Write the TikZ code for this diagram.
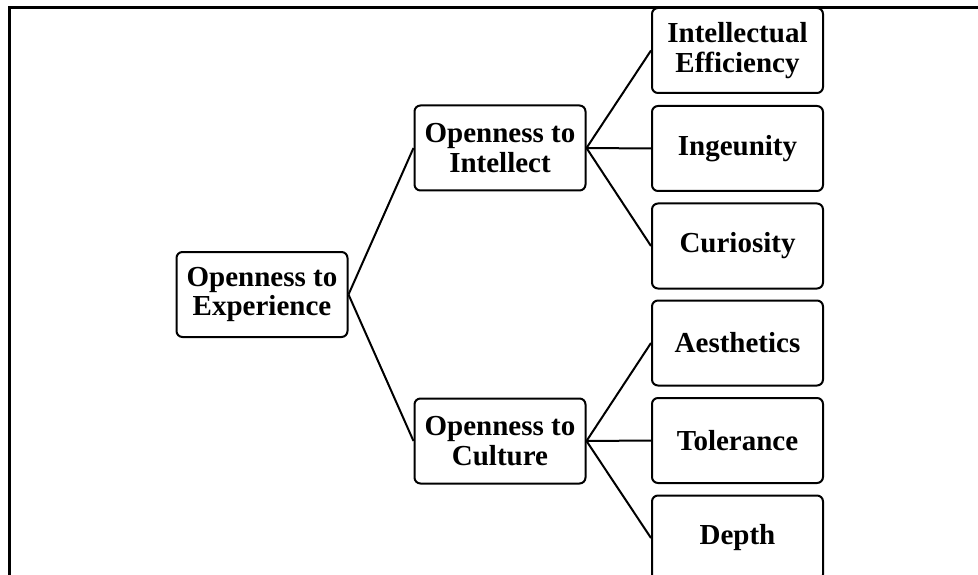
\documentclass[tikz,border=0pt]{standalone}
\usepackage{fontspec}
\setmainfont{Liberation Serif}
\begin{document}
\begin{tikzpicture}[x=1pt,y=-1pt,
  box/.style={draw, line width=2pt, rounded corners=6pt,
    minimum width=171pt, minimum height=85pt, inner sep=0pt,
    align=center, font=\fontsize{29}{29.5}\selectfont\bfseries},
  link/.style={line width=2pt}]
\useasboundingbox (0,0) rectangle (978,575);
\clip (0,0) rectangle (978,575);
% frame along the top and left edges
\draw[line width=3pt] (9,580) -- (9,8) -- (985,8);

% root and the two facets
\node[box] (exp) at (262,294.5) {Openness to\\Experience};
\node[box] (int) at (500,148) {Openness to\\Intellect};
\node[box] (cul) at (500,441) {Openness to\\Culture};

% sub-facets
\node[box] (eff) at (737.5,50.5) {Intellectual\\Efficiency};
\node[box] (ing) at (737.5,148.5) {Ingeunity};
\node[box] (cur) at (737.5,246) {Curiosity};
\node[box] (aes) at (737.5,343) {Aesthetics};
\node[box] (tol) at (737.5,440.5) {Tolerance};
\node[box] (dep) at (737.5,538) {Depth};

% connectors
\draw[link] (exp.east) -- (int.west);
\draw[link] (exp.east) -- (cul.west);
\foreach \t in {eff,ing,cur} \draw[link] (int.east) -- (\t.west);
\foreach \t in {aes,tol,dep} \draw[link] (cul.east) -- (\t.west);
\end{tikzpicture}
\end{document}
